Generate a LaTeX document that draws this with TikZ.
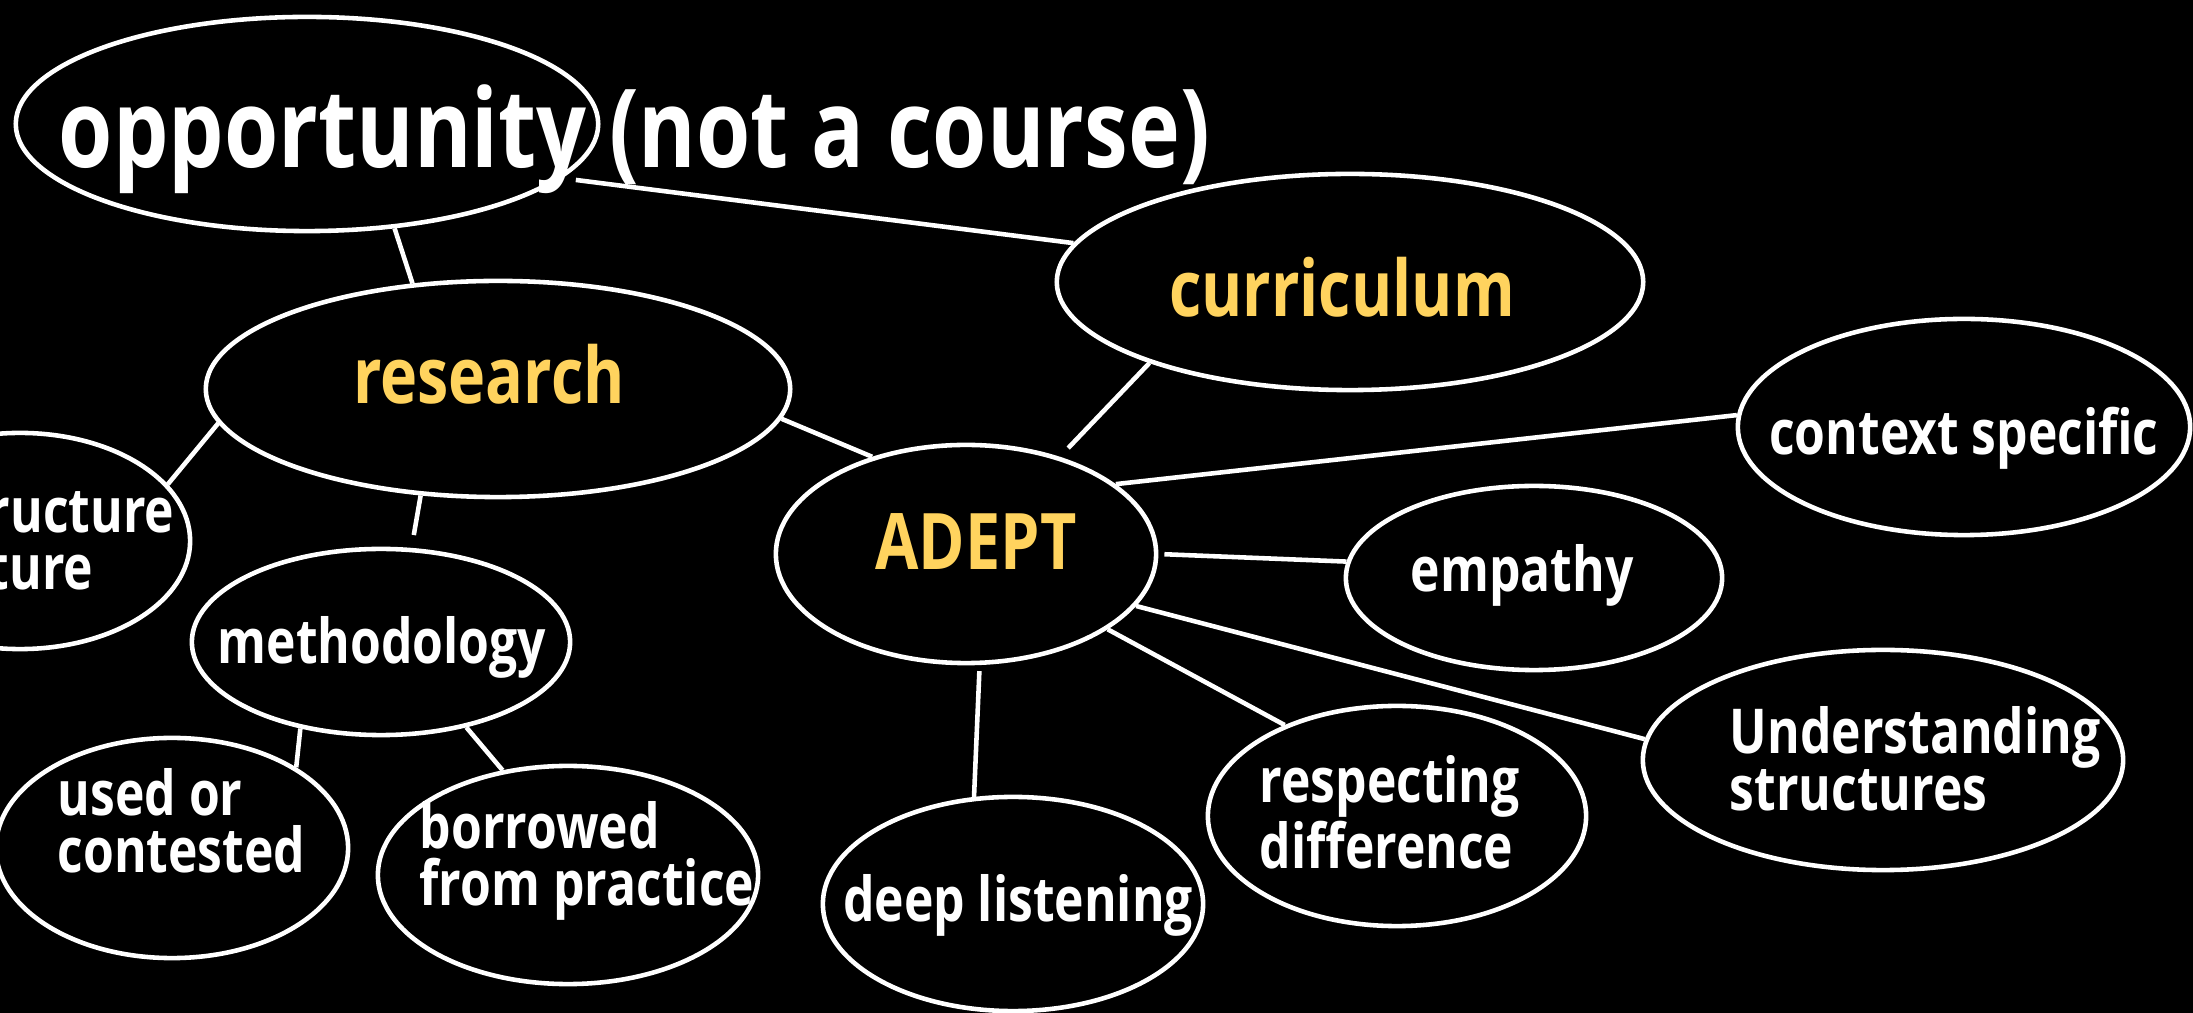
\documentclass[tikz,border=0pt]{standalone}
\usepackage{fontspec}
\setmainfont{Open Sans}[FakeStretch=0.805]
\usetikzlibrary{shapes.geometric}
\definecolor{gold}{HTML}{FFD35E}
% two left-aligned lines whose baseline is the first line's
\newcommand\twoline[2]{\vtop{\baselineskip=16.2pt\hbox{#1}\hbox{#2}}}

\begin{document}
\begin{tikzpicture}[x=0.01cm, y=-0.01cm,
  oval/.style 2 args={ellipse, draw=white, fill=black, line width=1.3pt, inner sep=0pt,
    minimum width=#1*0.02cm, minimum height=#2*0.02cm},
  link/.style={draw=white, line width=1.3pt},
  lbl/.style={text=white, inner sep=0pt, font=\bfseries\fontsize{17.6}{16.2}\selectfont},
  key/.style={text=gold, inner sep=0pt, font=\bfseries\fontsize{22.2}{26}\selectfont},
  headline/.style={text=white, inner sep=0pt, font=\bfseries\fontsize{31}{36}\selectfont}]

\fill[black] (0,0) rectangle (2193,1013);
\useasboundingbox (0,0) rectangle (2193,1013);
\clip (0,0) rectangle (2193,1013);

% ellipses
\node[oval={291}{107}] (opp)   at (307,124)  {};
\node[oval={293}{108}] (cur)   at (1350,282) {};
\node[oval={292}{108}] (res)   at (498,389)  {};
\node[oval={170}{108}] (infra) at (20,541)   {};
\node[oval={190}{109}] (adept) at (966,554)  {};
\node[oval={226}{108}] (ctx)   at (1964,427) {};
\node[oval={188}{92}]  (emp)   at (1534,578) {};
\node[oval={189}{93}]  (meth)  at (381,642)  {};
\node[oval={176}{110}] (used)  at (172,848)  {};
\node[oval={190}{109}] (borr)  at (568,875)  {};
\node[oval={190}{107}] (deep)  at (1013,904) {};
\node[oval={189}{110}] (resp)  at (1397,816) {};
\node[oval={240}{110}] (und)   at (1883,760) {};

% connectors
\draw[link] (opp.-50) -- (res.129);
\draw[link, shorten <=0.14cm] (opp.-12.4) -- (cur.172.6);
\draw[link] (res.187.3) -- (infra.21.4);
\draw[link, shorten >=0.13cm] (res.234.6) -- (meth.72.6);
\draw[link] (res.-6.4) -- (adept.134.7);
\draw[link, shorten >=0.12cm] (cur.202.1) -- (adept.46.4);
\draw[link] (adept.25.6) -- (ctx.177.4);
\draw[link, shorten <=0.06cm] (adept.-0.6) -- (emp.175.7);
\draw[link] (adept.-17.1) -- (und.175.2);
\draw[link] (adept.-28.6) -- (resp.141);
\draw[link, shorten <=0.06cm] (adept.-83.1) -- (deep.110.3);
\draw[link] (meth.227.7) -- (used.33.6);
\draw[link] (meth.-45) -- (borr.122);

% labels
\node[headline, anchor=base west] (t-opp) at (58,168) {opportunity (not a course)};
\node[key, anchor=base] (t-adept) at (976,570) {ADEPT};
\node[key, anchor=base] (t-cur) at (1342,317) {curriculum};
\node[key, anchor=base] (t-res) at (489,404) {research};
\node[lbl, anchor=base] (t-ctx) at (1964,455) {context specific};
\node[lbl, anchor=base] (t-emp) at (1522,592) {empathy};
\node[lbl, anchor=base] (t-meth) at (382,664) {methodology};
\node[lbl, anchor=base] (t-deep) at (1018,922) {deep listening};
\node[lbl, anchor=base west] (t-used) at (57,816) {\twoline{used or}{contested}};
\node[lbl, anchor=base west] (t-borr) at (419,849) {\twoline{borrowed}{from practice}};
\node[lbl, anchor=base west] (t-resp) at (1259,803) {\twoline{respecting}{difference}};
\node[lbl, anchor=base west] (t-und) at (1729,754) {\twoline{Understanding}{structures}};
\node[lbl, anchor=base east] (t-infra) at (175,533) {\twoline{ructure}{ture}};
\end{tikzpicture}
\end{document}
